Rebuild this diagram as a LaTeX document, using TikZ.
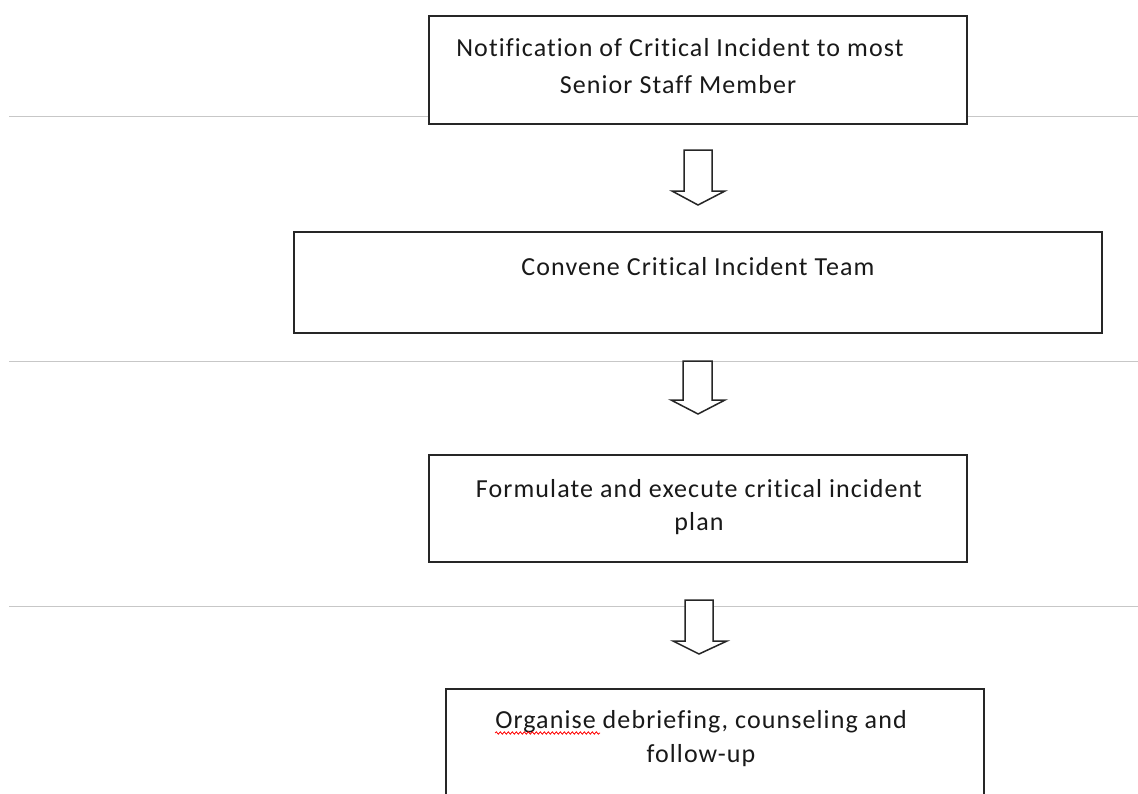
\documentclass[tikz,border=0pt]{standalone}
\usepackage{fontspec}
\setmainfont{Carlito}[Ligatures={NoCommon,NoRequired,NoContextual},LetterSpace=4.2]
\usetikzlibrary{decorations.pathmorphing}
\begin{document}
\begin{tikzpicture}[x=1pt,y=-1pt,
  rule/.style={draw=black!22,line width=1pt},
  boxshape/.style={draw=black!85,line width=1.8pt,fill=white,inner sep=0pt,anchor=north west},
  label/.style={anchor=base,inner sep=0pt,text=black!90,font=\fontsize{26}{31}\selectfont},
  blockarrow/.style={draw=black!85,line width=1.5pt,fill=white,line join=miter},
  squiggle/.style={red,line width=0.8pt,decorate,decoration={snake,amplitude=1.2pt,segment length=4pt}}]
\useasboundingbox (0,0) rectangle (1138,793);
\fill[white] (0,0) rectangle (1138,793);
\clip (0,0) rectangle (1138,793);
% horizontal rules
\draw[rule] (9,116) -- (1138,116);
\draw[rule] (9,361) -- (1138,361);
\draw[rule] (9,606) -- (1138,606);
% boxes
\node[boxshape,minimum width=538pt,minimum height=108pt] (b1) at (428,15) {};
\node[boxshape,minimum width=808pt,minimum height=101pt] (b2) at (293,231) {};
\node[boxshape,minimum width=538pt,minimum height=107pt] (b3) at (428,454) {};
\node[boxshape,minimum width=538pt,minimum height=130pt] (b4) at (445,688) {};
% block arrows
\draw[blockarrow] (684,150) -- (712,150) -- (712,191) -- (725,191) -- (698,205) -- (672,191) -- (684,191) -- cycle;
\draw[blockarrow] (683,361) -- (712,361) -- (712,400) -- (725,400) -- (698,414) -- (671,400) -- (683,400) -- cycle;
\draw[blockarrow] (685,600) -- (713,600) -- (713,641) -- (727,641) -- (699,654) -- (673,641) -- (685,641) -- cycle;
% texts
\node[label] (t1a) at (680,56) {Notification of Critical Incident to most};
\node[label] (t1b) at (678,93) {Senior Staff Member};
\node[label] (t2) at (698,275) {Convene Critical Incident Team};
\node[label] (t3a) at (699,497) {Formulate and execute critical incident};
\node[label] (t3b) at (699,530) {plan};
\node[label] (t4a) at (701,728) {Organise debriefing, counseling and};
\node[label] (t4b) at (701,762) {follow-up};
% spell-check squiggle
\draw[squiggle] ([yshift=-5pt]t4a.base west) -- ++(105,0);
\end{tikzpicture}
\end{document}
